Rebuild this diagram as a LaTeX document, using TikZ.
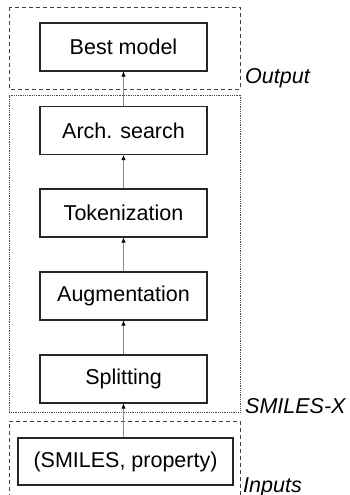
\documentclass[tikz,border=0pt]{standalone}
\usepackage{fontspec}
\setmainfont{Liberation Sans}
\usetikzlibrary{arrows.meta}
\begin{document}
\begin{tikzpicture}[x=1pt,y=-1pt,
  stagebox/.style={draw=black!85, line width=1.1pt, minimum width=167pt, minimum height=48pt,
    inner sep=0pt, font=\fontsize{21.5}{25}\selectfont},
  flow/.style={draw=black!45, line width=0.8pt, -{Latex[black,length=5pt,width=4.5pt]}},
  groupdash/.style={draw=black!75, line width=0.8pt, dash pattern=on 4pt off 3pt},
  groupdot/.style={draw=black!70, line width=0.8pt, dash pattern=on 0.8pt off 1pt},
  grouplabel/.style={anchor=base west, inner sep=0pt, font=\fontsize{21.5}{25}\selectfont\itshape}]
\useasboundingbox (0,0) rectangle (349,495);
\clip (0,0) rectangle (349,495);
% group frames
\draw[groupdash] (9,7) rectangle (240,89);
\draw[groupdot] (9,95.5) rectangle (240,412);
\draw[groupdash] (9,505) -- (9,421) -- (240,421) -- (240,505);
% stages
\node[stagebox] (best) at (123.5,47) {Best model};
\node[stagebox] (arch) at (123.5,130.5) {Arch. search};
\node[stagebox] (tok) at (123.5,213) {Tokenization};
\node[stagebox] (aug) at (123.5,296) {Augmentation};
\node[stagebox] (split) at (123.5,379) {Splitting};
\node[stagebox, minimum width=215pt, minimum height=47pt] (inp) at (125.5,461.5) {(SMILES, property)};
% connectors
\draw[flow] (arch.north) -- (best.south);
\draw[flow] (tok.north) -- (arch.south);
\draw[flow] (aug.north) -- (tok.south);
\draw[flow] (split.north) -- (aug.south);
\draw[flow] (inp.north -| split.south) -- (split.south);
% labels
\node[grouplabel] (lout) at (245,84) {Output};
\node[grouplabel] (lsx) at (245,413) {SMILES-X};
\node[grouplabel] (lin) at (243,492) {Inputs};
\end{tikzpicture}
\end{document}
